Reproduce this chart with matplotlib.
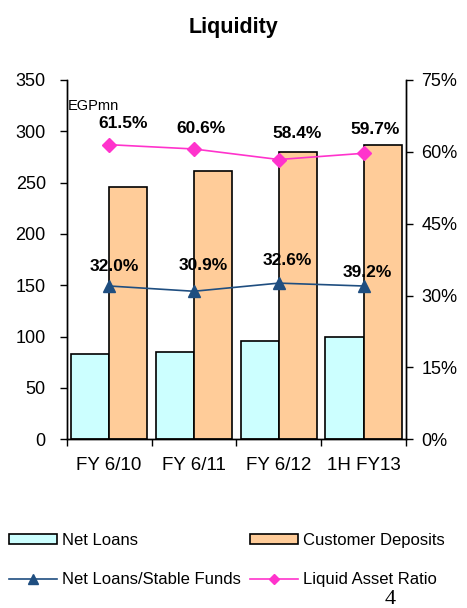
import matplotlib
matplotlib.use("Agg")
import matplotlib.pyplot as plt
import numpy as np
from matplotlib.patches import Patch
from matplotlib.lines import Line2D

plt.rcParams['font.family'] = ['Liberation Sans', 'DejaVu Sans']

categories = ["FY 6/10", "FY 6/11", "FY 6/12", "1H FY13"]
net_loans = [83, 85, 96, 100]
customer_deposits = [246, 261, 280, 287]
stable_funds_ratio = [32.0, 30.9, 32.6, 32.0]
stable_funds_labels = ["32.0%", "30.9%", "32.6%", "39.2%"]
liquid_ratio = [61.5, 60.6, 58.4, 59.7]
liquid_labels = ["61.5%", "60.6%", "58.4%", "59.7%"]
left_ticks = [0, 50, 100, 150, 200, 250, 300, 350]
right_ticks = [0, 15, 30, 45, 60, 75]

W, H = 467, 608
fig = plt.figure(figsize=(W / 100, H / 100), dpi=100)
ax = fig.add_axes([66.7 / W, 1 - 439.3 / H, (406 - 66.7) / W, (439.3 - 80) / H])
ax2 = ax.twinx()

x = np.arange(len(categories))
bw = 0.45
ax.bar(x - bw / 2, net_loans, bw, color="#CCFFFF", edgecolor="black", linewidth=1.2, zorder=2)
ax.bar(x + bw / 2, customer_deposits, bw, color="#FFCC99", edgecolor="black", linewidth=1.2, zorder=2)

ax.set_xlim(-0.5, 3.5)
ax.set_ylim(0, 350)
ax.set_yticks(left_ticks)
ax.set_xticks(x)
ax.set_xticklabels(categories, fontsize=13.5)
ax.set_xticks(np.arange(-0.5, 4.0, 1.0), minor=True)
ax.tick_params(axis='x', which='major', length=0, pad=13)
ax.tick_params(axis='x', which='minor', length=5, width=1, direction='out')
ax.tick_params(axis='y', length=5, width=1, direction='out', labelsize=13, pad=10)

ax2.set_ylim(0, 75)
ax2.set_yticks(right_ticks)
ax2.set_yticklabels([f"{t}%" for t in right_ticks])
ax2.tick_params(axis='y', length=5, width=1, direction='out', labelsize=13, pad=6)

for a in (ax, ax2):
    a.spines['top'].set_visible(False)
    for s in ('left', 'right', 'bottom'):
        a.spines[s].set_linewidth(1)

blue = "#1F4E80"
pink = "#FF33CC"
ax2.plot(x, stable_funds_ratio, color=blue, linewidth=1.2, marker="^", markersize=8, zorder=3)
ax2.plot(x, liquid_ratio, color=pink, linewidth=1.2, marker="D", markersize=7, zorder=3)

sf_off = [(5, 19), (9, 26), (9, 23), (4, 13)]
for xi, v, lab, (dx, dy) in zip(x, stable_funds_ratio, stable_funds_labels, sf_off):
    ax2.annotate(lab, (xi, v), xytext=(dx * 0.72, dy * 0.72), textcoords="offset points",
                 ha="center", va="center", fontsize=12.5, fontweight="bold")
lr_off = [(14, 21), (7, 20), (18, 26), (12, 24)]
for xi, v, lab, (dx, dy) in zip(x, liquid_ratio, liquid_labels, lr_off):
    ax2.annotate(lab, (xi, v), xytext=(dx * 0.72, dy * 0.72), textcoords="offset points",
                 ha="center", va="center", fontsize=12.5, fontweight="bold")

ax.text(0.003, 1 - (105.5 - 80) / (439.3 - 80), "EGPmn", transform=ax.transAxes,
        fontsize=10.5, ha="left", va="center")

fig.text(0.5, 1 - 27 / H, "Liquidity", ha="center", va="center", fontsize=15.5, fontweight="bold")

handles = [
    Patch(facecolor="#CCFFFF", edgecolor="black", linewidth=1.2),
    Line2D([], [], color=blue, linewidth=1.2, marker="^", markersize=7),
    Patch(facecolor="#FFCC99", edgecolor="black", linewidth=1.2),
    Line2D([], [], color=pink, linewidth=1.2, marker="D", markersize=5),
]
labels = ["Net Loans", "Net Loans/Stable Funds", "Customer Deposits", "Liquid Asset Ratio"]
fig.legend(handles, labels, loc="upper left", bbox_to_anchor=(4 / W, 1 - 528 / H), ncol=2,
           frameon=False, fontsize=12, handlelength=2.9, handleheight=0.6, handletextpad=0.3,
           columnspacing=0.5, labelspacing=1.45, borderaxespad=0, borderpad=0.3)

fig.text(390 / W, 1 - 599 / H, "4", ha="center", va="center", fontsize=16, family="Liberation Serif")

fig.savefig("out.png", dpi=100)
